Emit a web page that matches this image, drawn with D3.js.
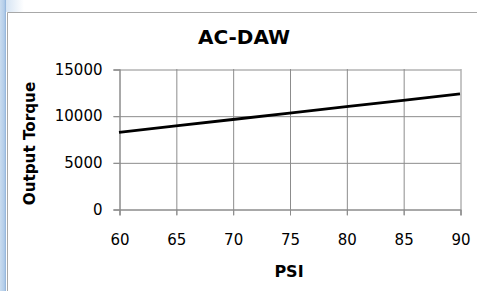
<!DOCTYPE html>
<html>
<head>
<meta charset="utf-8">
<script src="https://cdn.jsdelivr.net/npm/d3@7"></script>
<style>
  html, body { margin: 0; padding: 0; background: #fff; }
  svg { display: block; }
</style>
</head>
<body>
<svg id="chart" width="477" height="291"></svg>
<script>
var psi = [60, 65, 70, 75, 80, 85, 90];
var outputTorque = [8220, 8905, 9590, 10275, 10960, 11645, 12330];
var xTicks = [60, 65, 70, 75, 80, 85, 90];
var yTicks = [0, 5000, 10000, 15000];

var chartTitle = 'AC-DAW';
var xTitle = 'PSI';
var yTitle = 'Output Torque';

(function drawChart () {
  'use strict';

  var svg = d3.select('#chart');
  var plot = { left: 119, right: 460, top: 69, bottom: 209 };
  var gridColor = '#8c8c8c';
  var labelFont = '"DejaVu Sans", Verdana, sans-serif';

  var xScale = d3.scaleLinear().domain([60, 90]).range([plot.left, plot.right]);
  var yScale = d3.scaleLinear().domain([0, 15000]).range([plot.bottom, plot.top]);

  // window chrome: blue strip on the left, grey frame
  var defs = svg.append('defs');
  var strip = defs.append('linearGradient').attr('id', 'strip')
    .attr('x1', 0).attr('x2', 1).attr('y1', 0).attr('y2', 0);
  strip.append('stop').attr('offset', '0%').attr('stop-color', '#c9dcf0');
  strip.append('stop').attr('offset', '70%').attr('stop-color', '#b3cde9');
  strip.append('stop').attr('offset', '100%').attr('stop-color', '#8fb2da');

  var corner = defs.append('linearGradient').attr('id', 'corner')
    .attr('x1', 0).attr('x2', 1).attr('y1', 0).attr('y2', 0);
  corner.append('stop').attr('offset', '0%').attr('stop-color', '#c9dcf0');
  corner.append('stop').attr('offset', '100%').attr('stop-color', '#ffffff');

  svg.append('rect').attr('width', 477).attr('height', 291).attr('fill', '#fff');
  svg.append('rect').attr('x', 0).attr('y', 0).attr('width', 24).attr('height', 12)
    .attr('fill', 'url(#corner)');
  svg.append('rect').attr('x', 0).attr('y', 0).attr('width', 6).attr('height', 291)
    .attr('fill', 'url(#strip)');

  svg.append('path')
    .attr('d', 'M7.5,291V12.5H477')
    .attr('fill', 'none')
    .attr('stroke', '#a8a8a8')
    .attr('stroke-width', 1);

  // gridlines
  var xGrid = svg.append('g')
    .attr('transform', 'translate(0.5,' + plot.top + ')')
    .call(d3.axisBottom(xScale).tickValues(xTicks)
      .tickSize(plot.bottom - plot.top + 6).tickFormat(''));

  var yGrid = svg.append('g')
    .attr('transform', 'translate(' + (plot.right + 0.5) + ',0.5)')
    .call(d3.axisLeft(yScale).tickValues(yTicks)
      .tickSize(plot.right - plot.left + 6).tickFormat(''));

  [xGrid, yGrid].forEach(function styleGrid (g) {
    g.select('.domain').remove();
    g.selectAll('line').attr('stroke', gridColor).attr('stroke-width', 1);
  });

  // axes with labels
  var xAxis = svg.append('g')
    .attr('transform', 'translate(0.5,' + (plot.bottom + 0.5) + ')')
    .call(d3.axisBottom(xScale).tickValues(xTicks).tickSize(6).tickPadding(19));

  var yAxis = svg.append('g')
    .attr('transform', 'translate(' + (plot.left + 0.5) + ',0.5)')
    .call(d3.axisLeft(yScale).tickValues(yTicks).tickSize(6).tickPadding(11)
      .tickFormat(d3.format('d')));

  [xAxis, yAxis].forEach(function styleAxis (g) {
    g.attr('font-size', 15).attr('font-family', labelFont);
    g.select('.domain').attr('stroke', gridColor);
    g.selectAll('line').attr('stroke', gridColor);
    g.selectAll('text').attr('fill', '#000');
  });

  // series
  var line = d3.line()
    .x(function (d, i) { return xScale(psi[i]); })
    .y(function (d) { return yScale(d); });

  svg.append('path')
    .datum(outputTorque)
    .attr('d', line)
    .attr('fill', 'none')
    .attr('stroke', '#000')
    .attr('stroke-width', 2.8);

  // titles
  svg.append('text')
    .attr('x', 244)
    .attr('y', 44)
    .attr('text-anchor', 'middle')
    .style('font-family', labelFont)
    .style('font-weight', 'bold')
    .style('font-size', '20px')
    .text(chartTitle);

  svg.append('text')
    .attr('x', 289)
    .attr('y', 277)
    .attr('text-anchor', 'middle')
    .style('font-family', labelFont)
    .style('font-weight', 'bold')
    .style('font-size', '16px')
    .text(xTitle);

  svg.append('text')
    .attr('transform', 'translate(34.5,143.5) rotate(-90)')
    .attr('text-anchor', 'middle')
    .style('font-family', labelFont)
    .style('font-weight', 'bold')
    .style('font-size', '15.2px')
    .text(yTitle);
})();
</script>
</body>
</html>
